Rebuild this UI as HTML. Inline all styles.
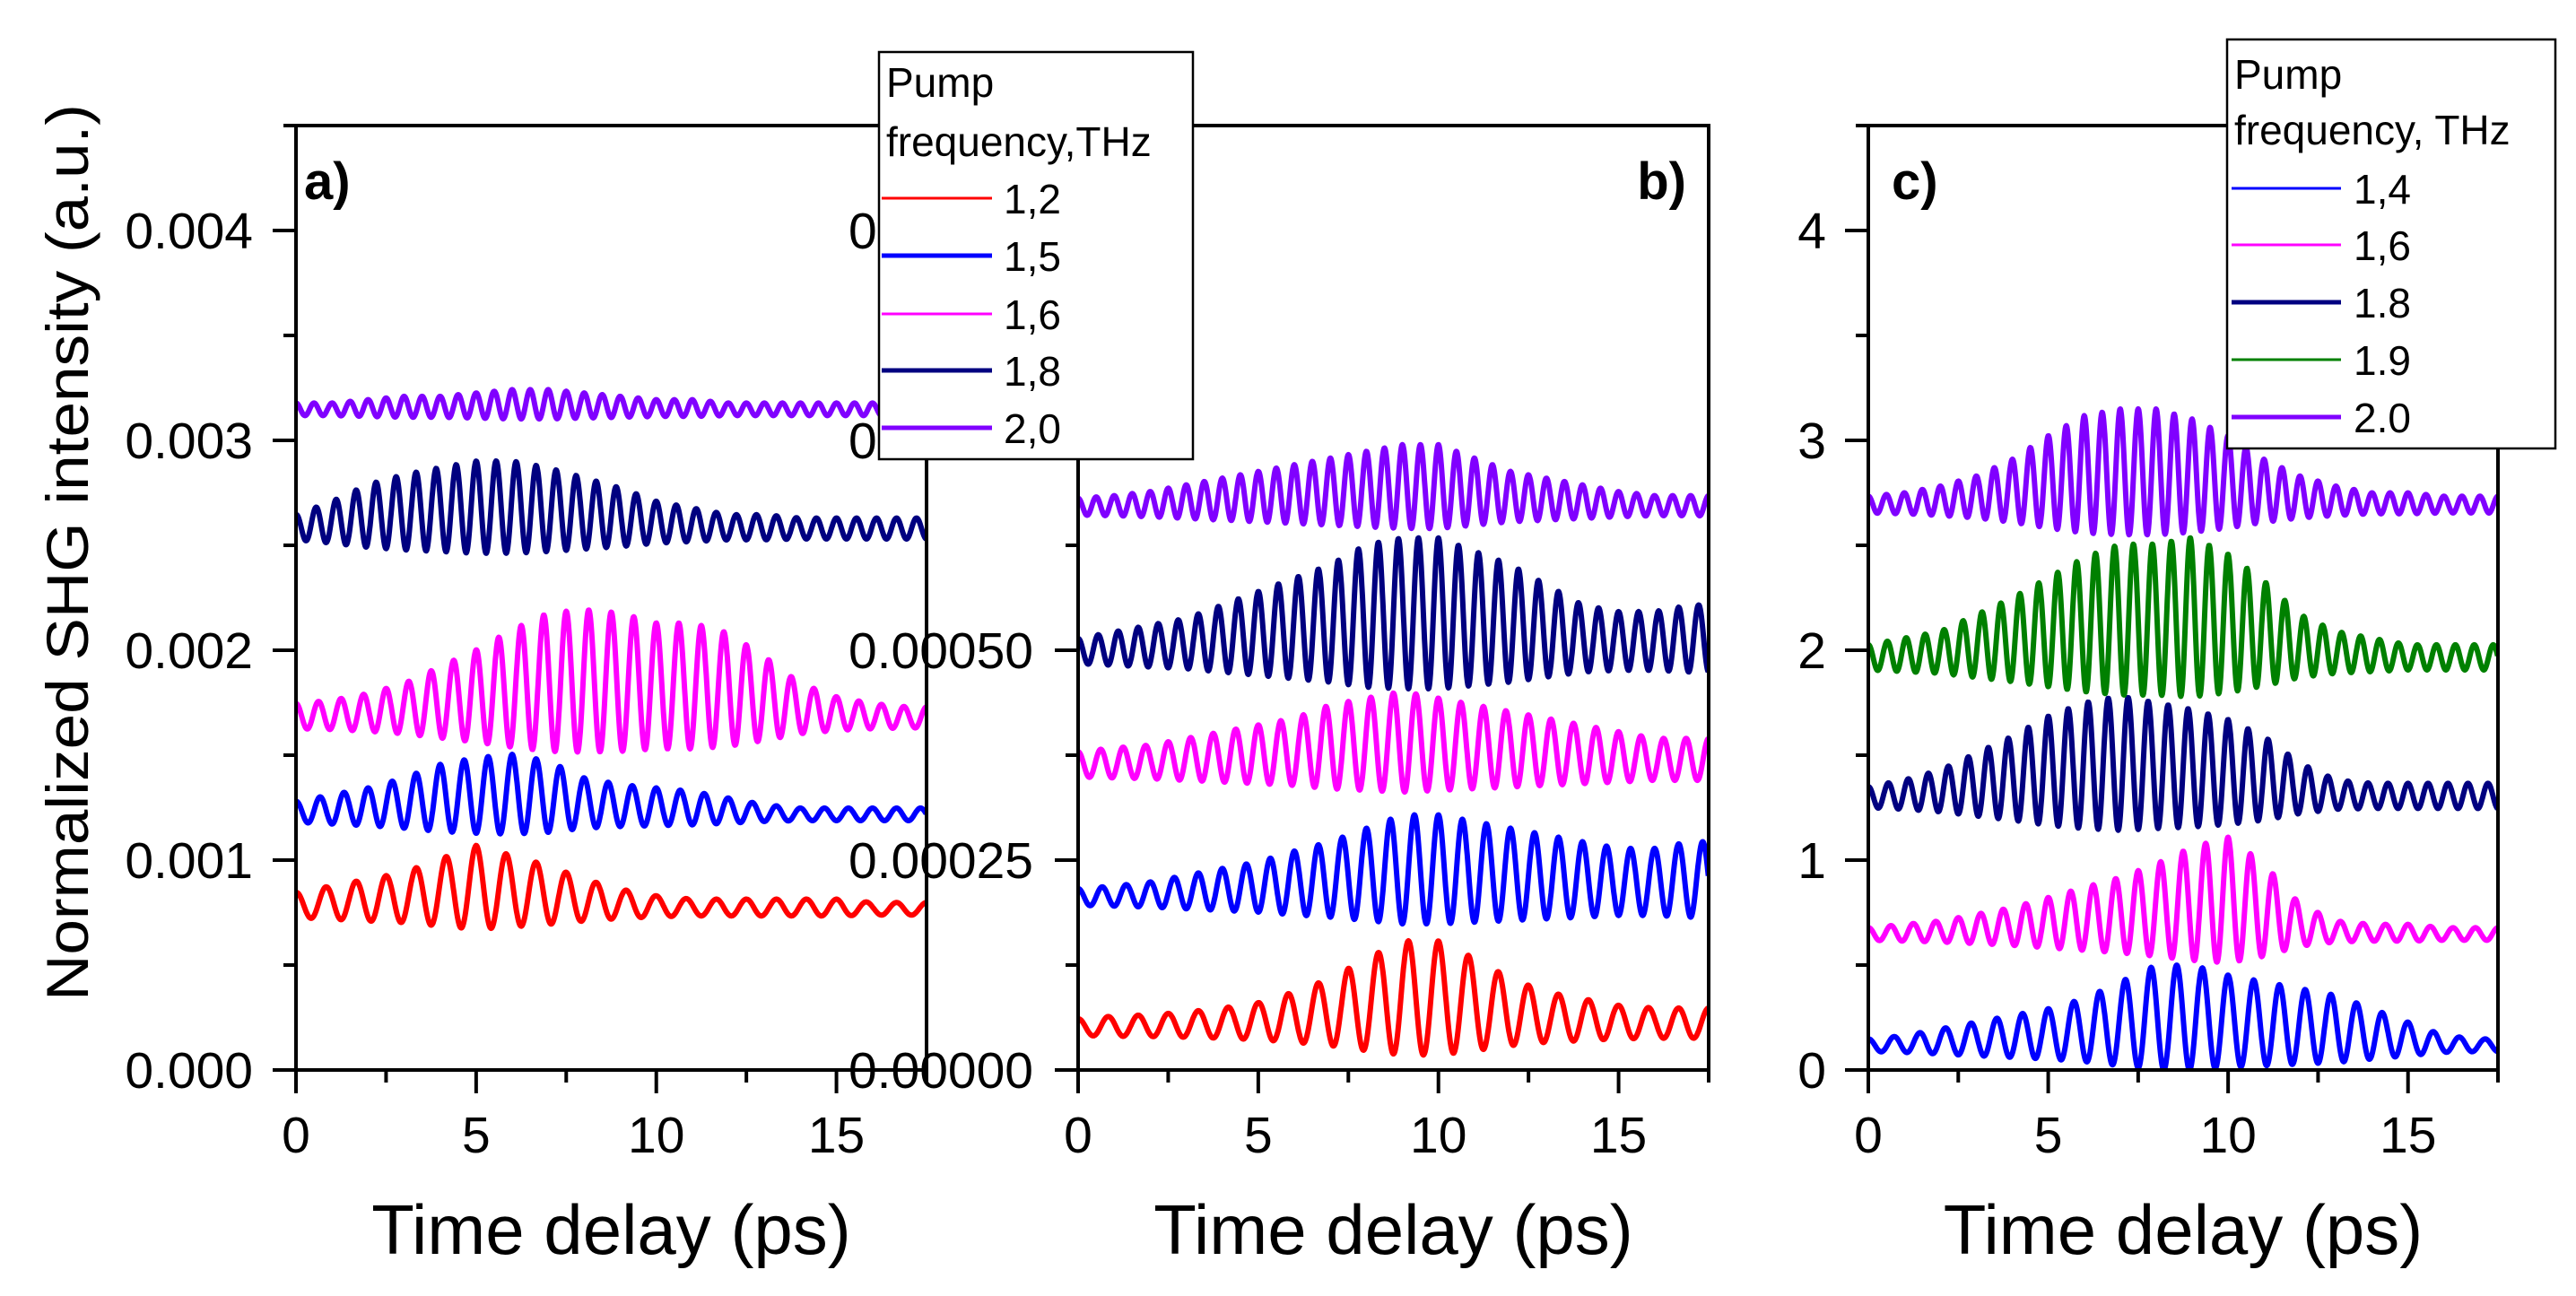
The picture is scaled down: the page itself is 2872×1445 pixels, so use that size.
<!DOCTYPE html>
<html><head><meta charset="utf-8"><style>
html,body{margin:0;padding:0;background:#fff;}
svg{display:block;font-family:"Liberation Sans",sans-serif;}
</style></head><body>
<svg id="fig" width="2872" height="1445" viewBox="0 0 2872 1445" xmlns="http://www.w3.org/2000/svg"></svg>
<script>
// ---- data ----
const timeGrid = [0,1,2,3,4,5,6,7,8,9,10,11,12,13,14,15,16,17];
const aFreqs = [1.2,1.5,1.6,1.8,2.0];
const aLabels = ["1,2","1,5","1,6","1,8","2,0"];
const aBase = [0.75,1.2,1.65,2.55,3.13];
const aAmpRed = [.06,.08,.1,.12,.16,.2,.17,.14,.1,.07,.05,.04,.04,.04,.04,.04,.03,.03];
const aAmpBlue = [.05,.07,.09,.12,.16,.18,.19,.17,.12,.1,.09,.08,.06,.04,.03,.03,.03,.03];
const aAmpMag = [.06,.07,.09,.12,.17,.22,.28,.33,.34,.33,.3,.3,.27,.2,.12,.08,.06,.05];
const aAmpNavy = [.06,.1,.15,.18,.2,.22,.22,.2,.17,.14,.1,.08,.06,.06,.05,.05,.05,.05];
const aAmpViolet = [.03,.03,.04,.05,.05,.06,.07,.07,.06,.05,.04,.04,.03,.03,.03,.03,.03,.03];
const bBase = [4.5,20,35.5,49,66.5];
const bAmpRed = [1,1.2,1.3,1.5,1.8,2.2,3,4,5.5,6.8,6.8,5.5,4,3,2.5,2,1.8,1.8];
const bAmpBlue = [1,1.2,1.5,2,2.5,3,3.8,4.5,5.5,6.5,6.5,6,5.5,5,4.5,4,4,4.5];
const bAmpMag = [1.5,1.8,2,2.5,3,3.5,4,5,5.5,6,5.5,5,4.5,4,3.5,3,2.5,2.5];
const bAmpNavy = [1.5,2,2.5,3,4,5,6,7,8.5,9,9,8,7,5.5,4,3.5,3.5,4];
const bAmpViolet = [1,1.2,1.5,2,2.5,3,3.5,4,4.5,5,5,4,3,2.5,2,1.5,1.2,1.2];
const cFreqs = [1.4,1.6,1.8,1.9,2.0];
const cLabels = ["1,4","1,6","1.8","1.9","2.0"];
const cBase = [0.1,0.63,1.27,1.93,2.67];
const cAmpBlue = [.03,.04,.06,.08,.1,.12,.15,.2,.25,.25,.22,.2,.18,.16,.12,.08,.04,.03];
const cAmpMag = [.03,.04,.05,.07,.09,.12,.15,.18,.22,.27,.3,.22,.1,.05,.04,.04,.03,.03];
const cAmpNavy = [.05,.07,.1,.15,.2,.26,.3,.32,.3,.28,.25,.2,.12,.07,.06,.06,.06,.06];
const cAmpGreen = [.06,.08,.1,.15,.2,.26,.32,.36,.36,.38,.33,.25,.15,.1,.08,.06,.06,.06];
const cAmpViolet = [.04,.05,.07,.1,.15,.22,.28,.3,.3,.27,.22,.15,.1,.07,.05,.05,.04,.04];
const xTicks = [0,5,10,15];
const aYTicks = ["0.000","0.001","0.002","0.003","0.004"];
const bYTicks = ["0.00000","0.00025","0.00050","0.00075","0.00100"];
const cYTicks = ["0","1","2","3","4"];

const abColors = ["#ff0000","#0000ff","#ff00ff","#000080","#8000ff"];
const cColors = ["#0000ff","#ff00ff","#000080","#008000","#8000ff"];

const NS="http://www.w3.org/2000/svg";
const svg=document.getElementById('fig');
function mk(tag,attrs,parent){const e=document.createElementNS(NS,tag);for(const k in attrs)e.setAttribute(k,attrs[k]);(parent||svg).appendChild(e);return e;}

const TOP=140,BOT=1193;
const panels=[
 {id:'a',x0:330,x1:1033,ymax:4.5,labels:aYTicks,labelX:282,base:aBase,amps:[aAmpRed,aAmpBlue,aAmpMag,aAmpNavy,aAmpViolet],freqs:aFreqs,colors:abColors,tag:'a)',tagX:339,tagAnchor:'start'},
 {id:'b',x0:1202,x1:1905,ymax:112.5,labels:bYTicks,labelX:1152,base:bBase,amps:[bAmpRed,bAmpBlue,bAmpMag,bAmpNavy,bAmpViolet],freqs:aFreqs,colors:abColors,tag:'b)',tagX:1880,tagAnchor:'end'},
 {id:'c',x0:2083,x1:2785,ymax:4.5,labels:cYTicks,labelX:2036,base:cBase,amps:[cAmpBlue,cAmpMag,cAmpNavy,cAmpGreen,cAmpViolet],freqs:cFreqs,colors:cColors,tag:'c)',tagX:2109,tagAnchor:'start'}
];
function envAt(arr,t){const i=Math.min(Math.floor(t),timeGrid.length-2);const f=Math.min(1,t-timeGrid[i]);return arr[i]*(1-f)+arr[i+1]*f;}

panels.forEach(p=>{
 const g=mk('g',{});
 
 
 const xs=t=>p.x0+t/17.5*(p.x1-p.x0);
 const ys=v=>BOT-v/p.ymax*(BOT-TOP);
 const cp=mk('clipPath',{id:'clip'+p.id},g);
 mk('rect',{x:p.x0,y:TOP,width:p.x1-p.x0,height:BOT-TOP},cp);
 p.amps.forEach((amp,si)=>{
  let d='';
  for(let t=0;t<=17.5;t+=0.015){
   const v=p.base[si]+envAt(amp,t)*(0.6+Math.cos(2*Math.PI*p.freqs[si]*t));
   d+=(d?'L':'M')+xs(t).toFixed(1)+','+ys(v).toFixed(1);
  }
  const pth=mk('path',{d:d,fill:'none',stroke:p.colors[si],'stroke-width':6,'stroke-linejoin':'round','clip-path':'url(#clip'+p.id+')'},g);
  
  
 });
 const frame=mk('rect',{x:p.x0,y:TOP,width:p.x1-p.x0,height:BOT-TOP,fill:'none',stroke:'#000','stroke-width':4},g);
 
 
 for(let k=0;k<=9;k++){
  const y=BOT-k*0.5*(BOT-TOP)/4.5;
  const major=k%2===0;
  mk('line',{x1:p.x0-(major?26:14),x2:p.x0,y1:y,y2:y,stroke:'#000','stroke-width':4},g);
  if(major){
   const tx=mk('text',{x:p.labelX,y:y+20,'font-size':57,'text-anchor':'end'},g);
   tx.textContent=p.labels[k/2];
   
   
  }
 }
 for(let k=0;k<=7;k++){
  const t=k*2.5;const x=xs(t);const major=k%2===0;
  mk('line',{x1:x,x2:x,y1:BOT,y2:BOT+(major?26:14),stroke:'#000','stroke-width':4},g);
 }
 xTicks.forEach(t=>{
  const tx=mk('text',{x:xs(t),y:1285,'font-size':57,'text-anchor':'middle'},g);
  tx.textContent=t;
  
  
 });
 const title=mk('text',{x:(p.x0+p.x1)/2,y:1398,'font-size':78,'text-anchor':'middle'},g);
 title.textContent='Time delay (ps)';
 
 
 const tag=mk('text',{x:p.tagX,y:222,'font-size':58,'font-weight':'bold','text-anchor':p.tagAnchor},g);
 tag.textContent=p.tag;
 
 
});

const yt=mk('text',{transform:'translate(98,616) rotate(-90)','font-size':66,'text-anchor':'middle',textLength:1000,lengthAdjust:'spacingAndGlyphs'});
yt.textContent='Normalized SHG intensity (a.u.)';



function legend(name,bx,by,bw,bh,l1y,l2y,l2,rows,lx0,lx1,tx,labels,colors,widths){
 const g=mk('g',{});
 
 
 mk('rect',{x:bx,y:by,width:bw,height:bh,fill:'#fff',stroke:'#000','stroke-width':2.5},g);
 const t1=mk('text',{x:bx+8,y:l1y+16,'font-size':46},g);t1.textContent='Pump';
 const t2=mk('text',{x:bx+8,y:l2y+16,'font-size':46},g);t2.textContent=l2;
 rows.forEach((y,i)=>{
  const ln=mk('line',{x1:lx0,x2:lx1,y1:y,y2:y,stroke:colors[i],'stroke-width':widths[i]},g);
  
  
  const t=mk('text',{x:tx,y:y+17,'font-size':46},g);
  t.textContent=labels[i];
  
  
 });
}
legend('legend-ab',980,58,350,454,92,158,'frequency,THz',[221,285,350,413,477],983,1106,1119,aLabels,abColors,[3,5,3,5,5]);
legend('legend-c',2483,44,366,456,83,145,'frequency, THz',[210,273,337,401,465],2488,2610,2624,cLabels,cColors,[3,3,5,3,5]);
</script>
</body></html>
